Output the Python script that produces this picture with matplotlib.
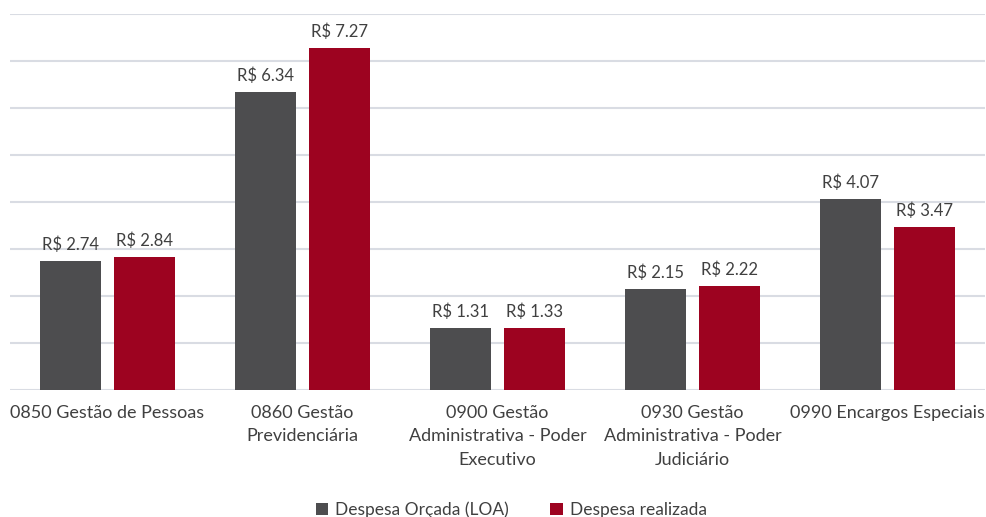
import matplotlib.pyplot as plt
import numpy as np

categories = [
    "0850 Gestão de Pessoas",
    "0860 Gestão\nPrevidenciária",
    "0900 Gestão\nAdministrativa - Poder\nExecutivo",
    "0930 Gestão\nAdministrativa - Poder\nJudiciário",
    "0990 Encargos Especiais",
]
orcada = [2.74, 6.34, 1.31, 2.15, 4.07]
realizada = [2.84, 7.27, 1.33, 2.22, 3.47]
series_names = ["Despesa Orçada (LOA)", "Despesa realizada"]

plt.rcParams['font.family'] = ['Lato', 'DejaVu Sans']

fig = plt.figure(figsize=(9.87, 5.17), dpi=100)
ax = fig.add_axes([0.0101, 0.2456, 0.9879, 0.7274])

x = np.arange(len(categories))
w = 0.31
off = 0.19
b1 = ax.bar(x - off, orcada, w, color="#4d4d4f", label=series_names[0], zorder=3)
b2 = ax.bar(x + off, realizada, w, color="#9d0320", label=series_names[1], zorder=3)

for bars, vals in ((b1, orcada), (b2, realizada)):
    for r, v in zip(bars, vals):
        ax.text(r.get_x() + r.get_width() / 2, v + 0.17, f"R$ {v:.2f}",
                ha="center", va="bottom", fontsize=12, color="#404040")

ax.set_xlim(-0.5, len(categories) - 0.5)
ax.set_ylim(0, 8)
ax.set_yticks(np.arange(0, 9, 1))
ax.yaxis.grid(True, color="#d9dce3", linewidth=1.5, zorder=0)
ax.tick_params(axis="y", left=False, labelleft=False)
ax.tick_params(axis="x", length=0, pad=11)
ax.set_xticks(x)
ax.set_xticklabels(categories, fontsize=13, color="#404040", linespacing=1.55)
for s in ax.spines.values():
    s.set_visible(False)

fig.legend(handles=[b1, b2], labels=series_names, loc="lower center",
           bbox_to_anchor=(0.518, -0.032), ncol=2, frameon=False, fontsize=12.5,
           handlelength=0.7, handleheight=0.7, columnspacing=2.4,
           handletextpad=0.4, labelcolor="#404040")

fig.savefig("out.png", dpi=100)
